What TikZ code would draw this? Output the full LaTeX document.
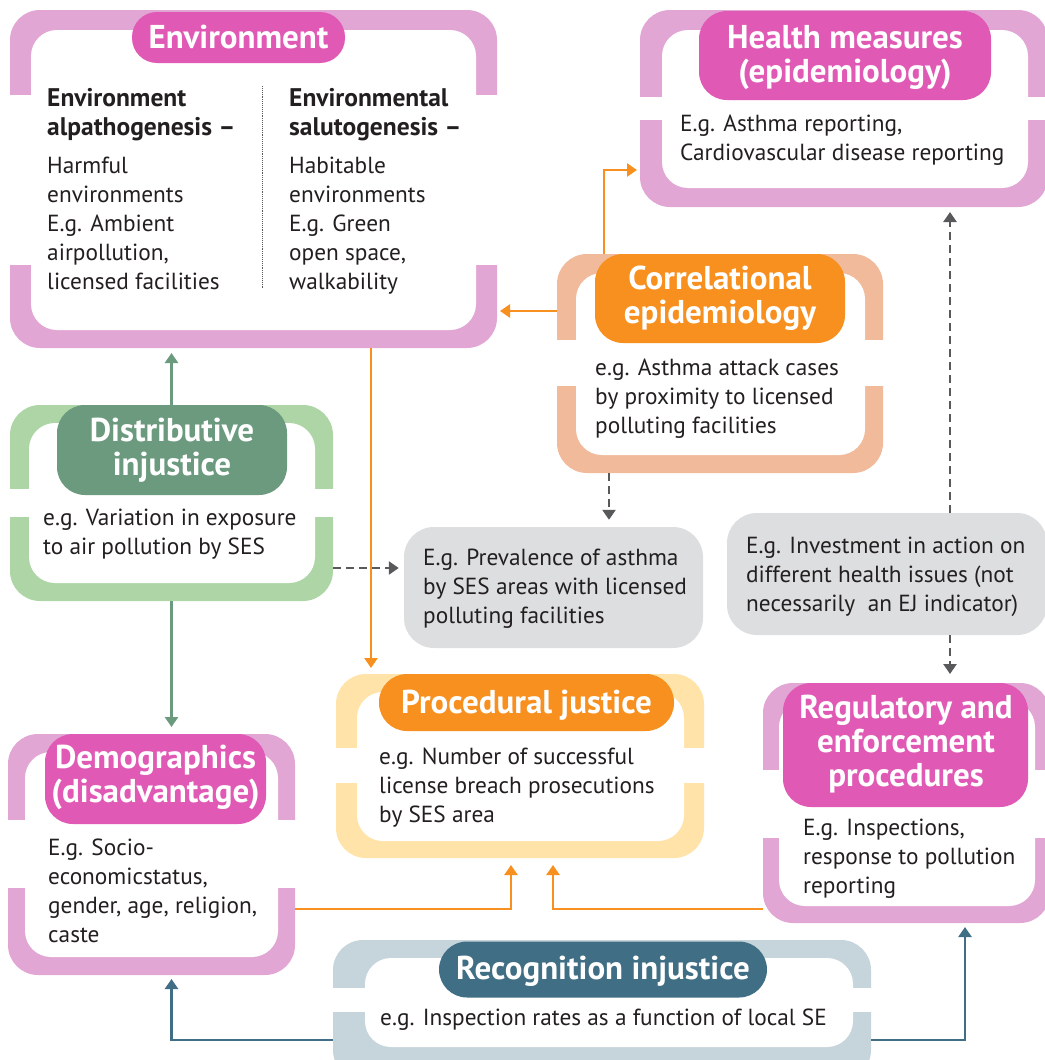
\documentclass[tikz,border=0pt]{standalone}
\usepackage{fontspec}
\setmainfont{PT Sans}
\usetikzlibrary{arrows.meta}

\definecolor{ink}{HTML}{231F20}
\definecolor{pinkL}{HTML}{E1A6D4}
\definecolor{pinkD}{HTML}{E05AB5}
\definecolor{orangeD}{HTML}{F7901E}
\definecolor{peachL}{HTML}{F1BA9B}
\definecolor{yellowL}{HTML}{FFE3A8}
\definecolor{greenL}{HTML}{ADD5A6}
\definecolor{greenD}{HTML}{6B9A7E}
\definecolor{tealL}{HTML}{C6D4DB}
\definecolor{tealD}{HTML}{406E84}
\definecolor{greyBox}{HTML}{DDDEDF}
\definecolor{dashGrey}{HTML}{58595B}

\begin{document}
% multi-line nodes are anchored at the baseline of their last line
\begin{tikzpicture}[x=1pt,y=-1pt,
  frame/.style={rectangle, rounded corners=30pt, inner sep=0pt, outer sep=0pt},
  cutband/.style={fill=white},
  innerbox/.style={fill=white, rounded corners=26pt},
  pill/.style={rectangle, rounded corners=28pt, inner sep=0pt},
  greybox/.style={rectangle, rounded corners=30pt, fill=greyBox, inner sep=0pt},
  title/.style={anchor=base, align=center, inner sep=0pt, text=white,
    font=\bfseries\fontsize{33}{34}\selectfont},
  body/.style={anchor=base west, align=left, inner sep=0pt, text=ink,
    font=\fontsize{23.3}{29}\selectfont},
  bodybold/.style={body, font=\bfseries\fontsize{25.5}{29}\selectfont},
  tip/.style={-{Triangle[length=10pt,width=13pt]}},
  orline/.style={tip, draw=orangeD, line width=2.8pt},
  grline/.style={tip, draw=greenD, line width=2.8pt},
  tlline/.style={tip, draw=tealD, line width=2.8pt},
  dashline/.style={tip, draw=dashGrey, line width=2.8pt, dash pattern=on 8pt off 5pt},
]
\useasboundingbox (0,0) rectangle (1044,1060);

% ---------- Environment ----------
\node[frame, fill=pinkL, minimum width=487pt, minimum height=338pt] (env) at (253.5,179) {};
\fill[cutband] (8,95) rectangle (499,265);
\fill[innerbox] (31,30) rectangle (476,330);
\node[pill, fill=pinkD, minimum width=213pt, minimum height=51pt, rounded corners=25pt] (env-pill) at (238.5,37.5) {};
\node[title] (env-t) at (238.5,48) {Environment};
\draw[dashGrey, line width=0.9pt, densely dotted] (262,86) -- (262,289);
\node[bodybold] (env-lh) at (47,135) {Environment\\alpathogenesis –};
\node[body] (env-lb) at (47,289) {Harmful\\environments\\E.g. Ambient\\airpollution,\\licensed facilities};
\node[bodybold] (env-rh) at (289,135) {Environmental\\salutogenesis –};
\node[body] (env-rb) at (289,289) {Habitable\\environments\\E.g. Green\\open space,\\walkability};

% ---------- Health measures ----------
\node[frame, fill=pinkL, minimum width=408pt, minimum height=197pt] (health) at (844,108.5) {};
\fill[cutband] (638,97) rectangle (1050,120);
\fill[innerbox] (662,30) rectangle (1028,188);
\node[pill, fill=pinkD, minimum width=292pt, minimum height=89pt] (health-pill) at (845,55.5) {};
\node[title] (health-t) at (845,82) {Health measures\\(epidemiology)};
\node[body] (health-b) at (680,160) {E.g. Asthma reporting,\\Cardiovascular disease reporting};

% ---------- Correlational epidemiology ----------
\node[frame, fill=peachL, minimum width=326pt, minimum height=219pt] (corr) at (720,363.5) {};
\fill[cutband] (555,340) rectangle (885,386);
\fill[innerbox] (576,273) rectangle (865,455);
\node[pill, fill=orangeD, minimum width=250pt, minimum height=89pt] (corr-pill) at (720,298.5) {};
\node[title] (corr-t) at (720,323) {Correlational\\epidemiology};
\node[body] (corr-b) at (595,433) {e.g. Asthma attack cases\\by proximity to licensed\\polluting facilities};

% ---------- Distributive injustice ----------
\node[frame, fill=greenL, minimum width=323pt, minimum height=196pt] (dist) at (171.5,503) {};
\fill[cutband] (8,489) rectangle (335,517);
\fill[innerbox] (29,423) rectangle (315,583);
\node[pill, fill=greenD, minimum width=230pt, minimum height=90pt] (dist-pill) at (172,450) {};
\node[title] (dist-t) at (172,475) {Distributive\\injustice};
\node[body] (dist-b) at (43,554) {e.g. Variation in exposure\\to air pollution by SES};

% ---------- Grey indicator boxes ----------
\node[greybox, minimum width=299pt, minimum height=121pt] (grey1) at (553.5,587.5) {};
\node[body] (grey1-b) at (423,623) {E.g. Prevalence of asthma\\by SES areas with licensed\\polluting facilities};
\node[greybox, minimum width=320pt, minimum height=122pt] (grey2) at (887,574) {};
\node[body] (grey2-b) at (746,611) {E.g. Investment in action on\\different health issues (not\\necessarily\ \ an EJ indicator)};

% ---------- Procedural justice ----------
\node[frame, fill=yellowL, minimum width=368pt, minimum height=184pt] (proc) at (520,766) {};
\fill[cutband] (334,748) rectangle (706,783);
\fill[innerbox] (357,692) rectangle (684,841);
\node[pill, fill=orangeD, minimum width=295pt, minimum height=57pt] (proc-pill) at (526.5,702.5) {};
\node[title] (proc-t) at (526.5,713) {Procedural justice};
\node[body] (proc-b) at (379,822) {e.g. Number of successful\\license breach prosecutions\\by SES area};

% ---------- Regulatory and enforcement procedures ----------
\node[frame, fill=pinkL, minimum width=287pt, minimum height=240pt] (reg) at (906.5,803) {};
\fill[cutband] (761,770) rectangle (1052,838);
\fill[innerbox] (779,701) rectangle (1035,906);
\node[pill, fill=pinkD, minimum width=245pt, minimum height=124pt] (reg-pill) at (905.5,745) {};
\node[title] (reg-t) at (906,786) {Regulatory and\\enforcement\\procedures};
\node[body] (reg-b) at (803,893) {E.g. Inspections,\\response to pollution\\reporting};

% ---------- Demographics ----------
\node[frame, fill=pinkL, minimum width=287pt, minimum height=241pt] (demo) at (151.5,854.5) {};
\fill[cutband] (6,820) rectangle (297,888);
\fill[innerbox] (25,752) rectangle (278,957);
\node[pill, fill=pinkD, minimum width=221pt, minimum height=90pt] (demo-pill) at (155.5,779) {};
\node[title] (demo-t) at (155.5,802) {Demographics\\(disadvantage)};
\node[body] (demo-b) at (48,942) {E.g. Socio-\\economicstatus,\\gender, age, religion,\\caste};

% ---------- Recognition injustice ----------
\node[frame, fill=tealL, minimum width=538pt, minimum height=140pt] (recog) at (602,1010) {};
\fill[cutband] (331,988) rectangle (873,1012);
\fill[innerbox] (365,958) rectangle (853,1047);
\node[pill, fill=tealD, minimum width=328pt, minimum height=56pt] (recog-pill) at (603,969.5) {};
\node[title] (recog-t) at (603,979) {Recognition injustice};
\node[body] (recog-b) at (380,1025) {e.g. Inspection rates as a function of local SE};

% ---------- routing guides ----------
\coordinate (yCE) at (0,311);
\coordinate (xCH) at (604,0);
\coordinate (yCH) at (0,170);
\coordinate (xEP) at (371,0);
\coordinate (yDG) at (0,568);
\coordinate (xCG) at (609,0);
\coordinate (xGH) at (950,0);
\coordinate (yBot) at (0,909);
\coordinate (xPL) at (511,0);
\coordinate (xPR) at (553,0);
\coordinate (yRec) at (0,1040);
\coordinate (xRR) at (965,0);

% ---------- connectors ----------
\draw[orline, shorten >=3pt] (corr.west |- yCE) -- (env.east |- yCE);
\draw[orline, shorten >=3pt] (corr.north -| xCH) |- (health.west |- yCH);
\draw[orline, shorten >=6pt] (env.south -| xEP) -- (proc.north -| xEP);
\draw[grline, shorten >=5pt] (dist.north) -- (env.south -| dist.north);
\draw[grline, shorten >=7pt] (dist.south) -- (demo.north -| dist.south);
\draw[dashline, shorten >=5pt] (dist.east |- yDG) -- (grey1.west |- yDG);
\draw[dashline, shorten >=7pt] (corr.south -| xCG) -- (grey1.north -| xCG);
\draw[dashline, shorten >=5pt] (grey2.north -| xGH) -- (health.south -| xGH);
\draw[dashline, shorten >=9pt] (grey2.south -| xGH) -- (reg.north -| xGH);
\draw[orline, shorten >=7pt] (demo.east |- yBot) -| (proc.south -| xPL);
\draw[orline, shorten >=7pt] (reg.west |- yBot) -| (proc.south -| xPR);
\draw[tlline, shorten >=4pt] (recog.west |- yRec) -| (demo.south -| dist.south);
\draw[tlline, shorten >=4pt] (recog.east |- yRec) -| (reg.south -| xRR);
\end{tikzpicture}
\end{document}
